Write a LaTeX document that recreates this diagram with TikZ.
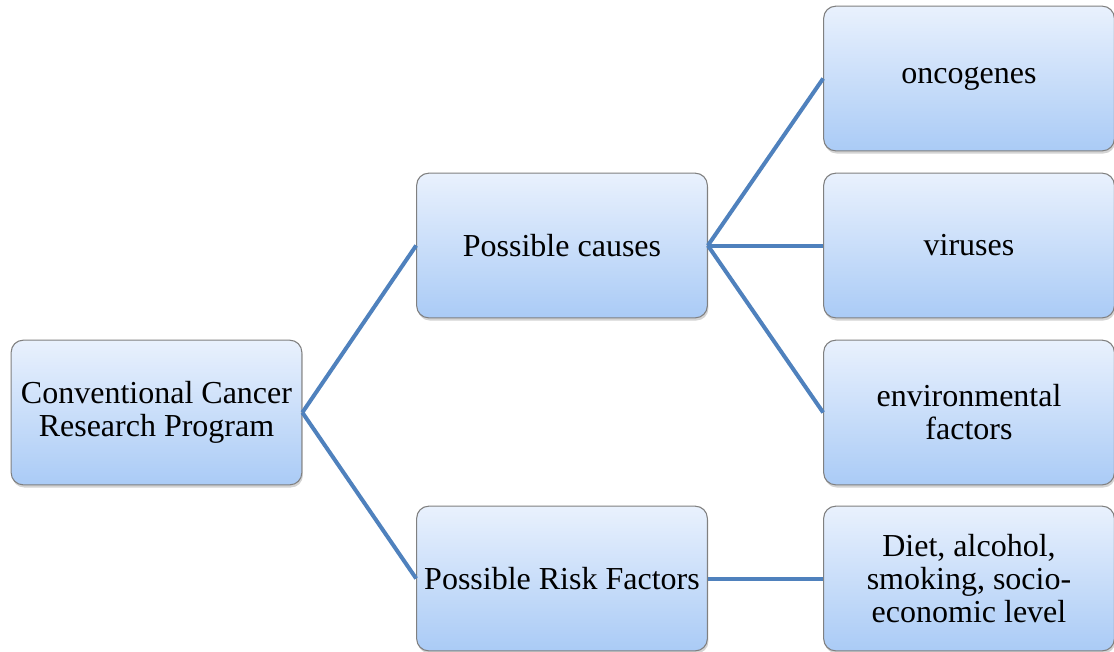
\documentclass[tikz,border=0pt]{standalone}
\usepackage{fontspec}
\setmainfont{Liberation Serif}
\usepackage{xcolor}
\usepackage{tikz}
\usetikzlibrary{shadows}
\definecolor{boxtop}{HTML}{E9F1FD}
\definecolor{boxbot}{HTML}{AACBF6}
\definecolor{boxline}{HTML}{808080}
\definecolor{linkblue}{HTML}{4F81BD}

\begin{document}
\begin{tikzpicture}[x=0.75pt,y=-0.75pt,
    box/.style={draw=boxline,line width=0.8pt,rounded corners=9pt,
        top color=boxtop,bottom color=boxbot,
        drop shadow={shadow xshift=0.8pt,shadow yshift=-2pt,opacity=0.35},
        minimum width=218pt,minimum height=108.5pt,inner sep=0pt,
        align=center,font=\fontsize{24}{24.75}\selectfont},
    link/.style={draw=linkblue,line width=3pt}]
            \useasboundingbox (0,0) rectangle (1114,651);
            % left column
            \node[box] (program) at (156.5,412.5) {Conventional Cancer\\Research Program};
            % middle column
            \node[box] (causes) at (562,245.5) {Possible causes};
            \node[box] (risks) at (562,578.5) {Possible Risk Factors};
            % right column
            \node[box] (oncogenes) at (969,78.5) {oncogenes};
            \node[box] (viruses) at (969,245.5) {viruses};
            \node[box] (environment) at (969,412.5) {environmental\\factors};
            \node[box] (lifestyle) at (969,578.5) {Diet, alcohol,\\smoking, socio-\\economic level};
            % connectors
            \draw[link] (program.east)--(causes.west);
            \draw[link] (program.east)--(risks.west);
            \draw[link] (causes.east)--(oncogenes.west);
            \draw[link] (causes.east)--(viruses.west);
            \draw[link] (causes.east)--(environment.west);
            \draw[link] (risks.east)--(lifestyle.west);
        \end{tikzpicture}
\end{document}
